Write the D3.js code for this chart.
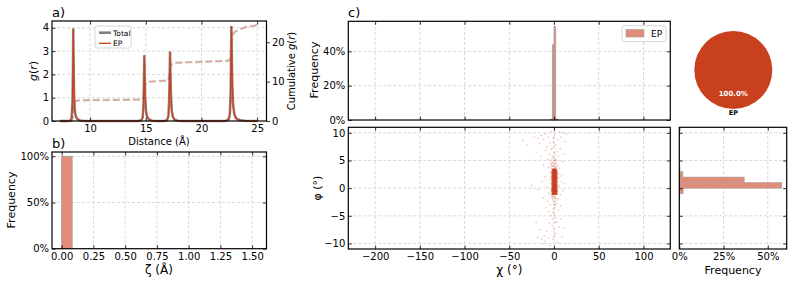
<!DOCTYPE html>
<html>
<head>
<meta charset="utf-8">
<script src="https://cdn.jsdelivr.net/npm/d3@7"></script>
<style>
  body { margin: 0; background: #fff; }
  text { font-family: "DejaVu Sans", sans-serif; }
</style>
</head>
<body>
<script>
// ---- data ----
var rValues = [7.3, 8.0, 8.25, 8.35, 8.42, 8.46, 8.49, 8.52, 8.56, 8.62, 8.7, 8.85, 9.1, 9.5,
  14.3, 14.6, 14.72, 14.8, 14.84, 14.87, 14.9, 14.95, 15.02, 15.12, 15.3, 15.6, 16.0,
  16.6, 16.9, 17.03, 17.1, 17.15, 17.18, 17.21, 17.26, 17.33, 17.43, 17.6, 17.9, 18.5,
  22.0, 22.2, 22.45, 22.55, 22.62, 22.66, 22.69, 22.72, 22.77, 22.84, 22.95, 23.1, 23.4, 23.9, 25.0];
var gValues = [0, 0, 0.02, 0.15, 0.8, 2.2, 3.97, 2.6, 1.2, 0.5, 0.22, 0.08, 0.02, 0,
  0, 0.03, 0.15, 0.7, 1.8, 2.82, 2.0, 1.0, 0.45, 0.18, 0.06, 0.01, 0,
  0, 0.03, 0.2, 0.9, 2.1, 2.98, 2.2, 1.1, 0.45, 0.18, 0.05, 0.01, 0,
  0, 0.01, 0.08, 0.3, 1.2, 2.8, 4.07, 3.0, 1.5, 0.7, 0.3, 0.12, 0.04, 0.01, 0];

var cumR = [7.3, 8.38, 8.45, 8.49, 8.55, 8.65, 8.9, 14.7, 14.82, 14.87, 14.93, 15.05, 15.4,
  17.0, 17.12, 17.18, 17.25, 17.4, 17.8, 22.5, 22.62, 22.69, 22.76, 22.9, 23.2, 24.0, 25.0];
var cumValues = [0, 0, 1.0, 2.8, 4.3, 5.0, 5.25, 5.45, 6.5, 7.8, 9.2, 9.8, 10.0,
  10.3, 11.6, 13.0, 14.2, 14.6, 14.8, 15.3, 16.5, 18.8, 21.2, 22.4, 23.0, 23.9, 24.3];

var zetaEdges = [0, 0.083];
var zetaFreq = [1.0];

var chiEdges = [-4, -2, 0, 2, 4];
var chiFreq = [0.005, 0.438, 0.545, 0.006];

var phiEdges = [-2, -1, 0, 1, 2, 3, 4];
var phiFreq = [0.003, 0.022, 0.579, 0.367, 0.02, 0.004];

var pieLabels = ['EP'];
var pieValues = [1];

var sparsePoints = [
  [-35, 8.6], [-30, 7.8], [-22, 9.2], [-18, 9.0], [-16, 8.1], [-14, 9.5], [-12, 8.8], [-10, 9.8],
  [-8, 7.5], [-6, 9.3], [-4, 8.2], [-3, 10.2], [-1, 9.0], [1, 9.6], [2, 7.9], [4, 8.7], [6, 10.1],
  [8, 9.2], [10, 10.0], [12, 8.4], [14, 9.8],
  [-20, 6.5], [-15, 5.8], [-12, 4.2], [-9, 6.8], [-7, 5.2], [-5, 6.1], [-3, 7.0], [-2, 5.5], [0, 6.4],
  [1, 5.0], [3, 6.6], [5, 5.7], [7, 7.1], [9, 4.8], [11, 6.2], [-6, 3.8], [-4, 4.5], [4, 4.1],
  [6, 3.6], [8, 2.2],
  [-25, 0.5], [-18, -0.3], [-14, 1.2], [-10, 2.0], [-8, 0.2], [-6, -0.8], [-5, 1.6], [-4, 2.8],
  [-3, -0.5], [-2, -1.5], [4, -0.6], [5, 1.9], [6, 0.4], [7, -1.2], [9, 1.1], [10, -0.4], [12, 0.8],
  [-12, -1.8], [-7, -2.4],
  [-9, -3.5], [-6, -4.2], [-4, -3.0], [-3, -5.0], [-1, -4.4], [1, -3.6], [2, -5.3], [3, -2.8],
  [5, -4.0], [7, -3.2], [8, -5.6], [-5, -6.3], [-2, -6.8], [0, -7.4], [3, -6.1], [6, -7.0],
  [-8, -7.8], [-11, -8.6], [-14, -9.2], [-16, -7.5], [-13, -10.1], [-10, -9.6], [-6, -9.0],
  [-4, -10.4], [-1, -9.3], [2, -8.2], [4, -9.8], [9, -8.8], [11, -7.2], [-18, -8.9], [-20, -6.2],
  [-3, 4.2], [-2, 3.9], [-1, 4.6], [0, 4.0], [1, 3.8], [2, 4.4], [3, 4.9], [-2.5, 5.1], [0.5, 5.4],
  [1.5, 6.0], [-1.5, -2.0], [0, -1.8], [1, -2.4], [2, -1.6], [-0.5, -2.9], [1.5, -3.1], [-3.5, 0.8],
  [-3.8, 2.1], [3.8, 0.3], [4.2, 2.6], [-4.5, -1.2], [4.6, -1.9], [-0.8, -3.8], [0.7, -4.9],
  [-1.2, 5.8], [2.4, -2.2], [-2.8, 3.6], [2.9, 3.7], [-2.6, -1.7], [3.1, -0.9], [0.2, 7.6],
  [-0.6, 8.3], [1.2, -6.2], [-1.7, -5.6], [0.4, -8.6], [-2.2, 7.2],
  [-1.4, 4.1], [0.6, 4.3], [2.2, 3.9], [-0.3, 5.0], [1.8, 5.2], [-1.9, -1.4], [0.4, -1.5],
  [1.7, -1.9], [-0.9, -2.3], [0.9, -3.0], [-2.4, 4.6], [2.6, 4.5]
];

var corePoints = [
  [-1.5, -1.0], [-0.5, -1.0], [0.5, -1.0], [1.5, -1.0], [2.5, -1.0],
  [-1.5, -0.6], [-0.5, -0.6], [0.5, -0.6], [1.5, -0.6], [2.5, -0.6],
  [-1.5, -0.2], [-0.5, -0.2], [0.5, -0.2], [1.5, -0.2], [2.5, -0.2],
  [-1.5, 0.2], [-0.5, 0.2], [0.5, 0.2], [1.5, 0.2], [2.5, 0.2],
  [-1.5, 0.6], [-0.5, 0.6], [0.5, 0.6], [1.5, 0.6], [2.5, 0.6],
  [-1.5, 1.0], [-0.5, 1.0], [0.5, 1.0], [1.5, 1.0], [2.5, 1.0],
  [-1.5, 1.4], [-0.5, 1.4], [0.5, 1.4], [1.5, 1.4], [2.5, 1.4],
  [-1.5, 1.8], [-0.5, 1.8], [0.5, 1.8], [1.5, 1.8], [2.5, 1.8],
  [-1.5, 2.2], [-0.5, 2.2], [0.5, 2.2], [1.5, 2.2], [2.5, 2.2],
  [-1.5, 2.6], [-0.5, 2.6], [0.5, 2.6], [1.5, 2.6], [2.5, 2.6],
  [-1.5, 3.0], [-0.5, 3.0], [0.5, 3.0], [1.5, 3.0], [2.5, 3.0],
  [-1.0, 3.3], [0.0, 3.3], [1.0, 3.3], [2.0, 3.3]
];

// ---- styles ----
var EP = '#c8401e';
var BAR = '#e08c78';
var EDGE = '#a0a0a0';
var GRID = '#cfcfcf';
var TICK = 3.5;

var svg = d3.select('body').append('svg')
    .attr('width', 793)
    .attr('height', 284);

function grid(x, y, xTicks, yTicks) {
  var g = svg.append('g').attr('class', 'grid');
  var xr = x.range(), yr = y.range();
  g.selectAll('line.gx').data(xTicks).enter().append('line')
      .attr('x1', function (d) { return x(d); })
      .attr('x2', function (d) { return x(d); })
      .attr('y1', yr[0]).attr('y2', yr[1]);
  g.selectAll('line.gy').data(yTicks).enter().append('line')
      .attr('y1', function (d) { return y(d); })
      .attr('y2', function (d) { return y(d); })
      .attr('x1', xr[0]).attr('x2', xr[1]);
  g.selectAll('line')
      .attr('stroke', GRID)
      .attr('stroke-width', 0.8)
      .attr('stroke-dasharray', '3,2');
}

function styleAxis(sel) {
  sel.attr('font-size', 10).attr('font-family', '"DejaVu Sans", sans-serif');
  sel.select('.domain').remove();
  sel.selectAll('.tick line').attr('stroke', '#000').attr('stroke-width', 0.8);
  sel.selectAll('.tick text').attr('fill', '#000');
}

function frame(x, y, o) {
  var xr = x.range(), yr = y.range();
  var g = svg.append('g');
  g.append('g')
      .attr('transform', 'translate(0,' + yr[0] + ')')
      .call(d3.axisBottom(x).tickValues(o.xTicks).tickSize(-TICK).tickPadding(4)
          .tickFormat(o.xFmt || ''))
      .call(styleAxis);
  g.append('g')
      .attr('transform', 'translate(0,' + yr[1] + ')')
      .call(d3.axisTop(x).tickValues(o.xTicks).tickSize(-TICK).tickFormat(''))
      .call(styleAxis);
  g.append('g')
      .attr('transform', 'translate(' + xr[0] + ',0)')
      .call(d3.axisLeft(y).tickValues(o.yTicks).tickSize(-TICK).tickPadding(3)
          .tickFormat(o.yFmt || ''))
      .call(styleAxis);
  if (!o.noRight) {
    g.append('g')
        .attr('transform', 'translate(' + xr[1] + ',0)')
        .call(d3.axisRight(y).tickValues(o.yTicks).tickSize(-TICK).tickFormat(''))
        .call(styleAxis);
  }
  g.append('rect')
      .attr('x', xr[0]).attr('y', yr[1])
      .attr('width', xr[1] - xr[0]).attr('height', yr[0] - yr[1])
      .attr('fill', 'none').attr('stroke', '#000').attr('stroke-width', 1.2);
  return g;
}

function label(txt, x, y, size, rotate, anchor) {
  var t = svg.append('text')
      .attr('x', x).attr('y', y)
      .attr('font-size', size)
      .attr('text-anchor', anchor || 'middle')
      .text(txt);
  if (rotate) t.attr('transform', 'rotate(-90,' + x + ',' + y + ')');
  return t;
}

// ---- panel a: g(r) ----
var xa = d3.scaleLinear().domain([6.58, 25.84]).range([52, 266.5]);
var ya = d3.scaleLinear().domain([0, 4.29]).range([121, 21]);
var yc = d3.scaleLinear().domain([0, 25.4]).range([121, 21]);

grid(xa, ya, [10, 15, 20, 25], [1, 2, 3, 4]);

var gLine = d3.line()
    .x(function (d, i) { return xa(rValues[i]); })
    .y(function (d) { return ya(d); });
var cLine = d3.line()
    .x(function (d, i) { return xa(cumR[i]); })
    .y(function (d) { return yc(d); });

svg.append('path').datum(cumValues)
    .attr('d', cLine).attr('fill', 'none')
    .attr('stroke', '#999').attr('stroke-opacity', 0.45).attr('stroke-width', 2.4)
    .attr('stroke-dasharray', '7,3');
svg.append('path').datum(cumValues)
    .attr('d', cLine).attr('fill', 'none')
    .attr('stroke', '#e08c78').attr('stroke-opacity', 0.7).attr('stroke-width', 1.2)
    .attr('stroke-dasharray', '7,3');

svg.append('path').datum(gValues)
    .attr('d', gLine).attr('fill', 'none')
    .attr('stroke', '#808080').attr('stroke-opacity', 0.85).attr('stroke-width', 2.6);
svg.append('path').datum(gValues)
    .attr('d', gLine).attr('fill', 'none')
    .attr('stroke', EP).attr('stroke-width', 1.3);

frame(xa, ya, {xTicks: [10, 15, 20, 25], yTicks: [0, 1, 2, 3, 4],
  xFmt: d3.format('d'), yFmt: d3.format('d'), noRight: true});

svg.append('g')
    .attr('transform', 'translate(266.5,0)')
    .call(d3.axisRight(yc).tickValues([0, 10, 20]).tickSize(TICK).tickPadding(2))
    .call(styleAxis);

// legend a
var lg = svg.append('g');
lg.append('rect').attr('x', 95).attr('y', 26).attr('width', 36).attr('height', 22)
    .attr('rx', 2).attr('fill', '#fff').attr('fill-opacity', 0.85)
    .attr('stroke', '#ccc').attr('stroke-width', 0.8);
lg.append('line').attr('x1', 99).attr('x2', 111).attr('y1', 32.7).attr('y2', 32.7)
    .attr('stroke', '#808080').attr('stroke-width', 2.6);
lg.append('line').attr('x1', 99).attr('x2', 111).attr('y1', 43.3).attr('y2', 43.3)
    .attr('stroke', EP).attr('stroke-width', 1.3);
lg.append('text').attr('x', 113).attr('y', 35.5).attr('font-size', 7.5).text('Total');
lg.append('text').attr('x', 113).attr('y', 46.1).attr('font-size', 7.5).text('EP');

label('a)', 52, 17, 13, false, 'start');
label('Distance (Å)', 159, 145, 10);
var gl = label('', 37, 71, 11, true);
gl.append('tspan').attr('font-style', 'italic').text('g');
gl.append('tspan').text('(');
gl.append('tspan').attr('font-style', 'italic').text('r');
gl.append('tspan').text(')');
var cl = label('Cumulative ', 295, 71, 10, true);
cl.append('tspan').attr('font-style', 'italic').text('g');
cl.append('tspan').text('(');
cl.append('tspan').attr('font-style', 'italic').text('r');
cl.append('tspan').text(')');

// ---- panel b: zeta histogram ----
var xb = d3.scaleLinear().domain([-0.076, 1.613]).range([52, 266.5]);
var yb = d3.scaleLinear().domain([0, 1.047]).range([248.7, 152]);
var zTicks = [0, 0.25, 0.5, 0.75, 1.0, 1.25, 1.5];

grid(xb, yb, zTicks, [0.5, 1.0]);

svg.append('g').selectAll('rect').data(zetaFreq).enter().append('rect')
    .attr('x', function (d, i) { return xb(zetaEdges[i]); })
    .attr('width', function (d, i) { return xb(zetaEdges[i + 1]) - xb(zetaEdges[i]); })
    .attr('y', function (d) { return yb(d); })
    .attr('height', function (d) { return yb(0) - yb(d); })
    .attr('fill', BAR).attr('stroke', EDGE).attr('stroke-width', 0.8);

frame(xb, yb, {xTicks: zTicks, yTicks: [0, 0.5, 1.0],
  xFmt: d3.format('.2f'), yFmt: d3.format('.0%')});

label('b)', 52, 148, 13, false, 'start');
label('ζ (Å)', 159, 274, 12);
label('Frequency', 15, 200, 11, true);

// ---- panel c: chi histogram (top) ----
var xc = d3.scaleLinear().domain([-230, 130]).range([348.3, 670.3]);
var yh = d3.scaleLinear().domain([0, 0.575]).range([120, 21.3]);
var chiTicks = [-200, -150, -100, -50, 0, 50, 100];

grid(xc, yh, chiTicks, [0.2, 0.4]);

svg.append('g').selectAll('rect').data(chiFreq).enter().append('rect')
    .attr('x', function (d, i) { return xc(chiEdges[i]); })
    .attr('width', function (d, i) { return xc(chiEdges[i + 1]) - xc(chiEdges[i]); })
    .attr('y', function (d) { return yh(d); })
    .attr('height', function (d) { return yh(0) - yh(d); })
    .attr('fill', BAR).attr('stroke', EDGE).attr('stroke-width', 0.6);

frame(xc, yh, {xTicks: chiTicks, yTicks: [0, 0.2, 0.4], yFmt: d3.format('.0%')});

var lc = svg.append('g');
lc.append('rect').attr('x', 622).attr('y', 25.7).attr('width', 44).attr('height', 16)
    .attr('rx', 2).attr('fill', '#fff').attr('stroke', '#ccc').attr('stroke-width', 0.8);
lc.append('rect').attr('x', 626).attr('y', 29.5).attr('width', 18).attr('height', 7.5)
    .attr('fill', BAR).attr('stroke', EDGE).attr('stroke-width', 0.6);
lc.append('text').attr('x', 651).attr('y', 37).attr('font-size', 9).text('EP');

label('c)', 348, 17, 13, false, 'start');
label('Frequency', 318, 70, 11, true);

// ---- pie ----
var pie = d3.pie().sort(null)(pieValues);
var arc = d3.arc().innerRadius(0).outerRadius(39);
var pg = svg.append('g').attr('transform', 'translate(733.3,70)');
pg.selectAll('path').data(pie).enter().append('path')
    .attr('d', arc).attr('fill', EP);
var pctArc = d3.arc().innerRadius(39 * 0.6).outerRadius(39 * 0.6);
var lblArc = d3.arc().innerRadius(39 * 1.1).outerRadius(39 * 1.1);
pg.selectAll('text.pct').data(pie).enter().append('text')
    .attr('transform', function (d) { return 'translate(' + pctArc.centroid(d) + ')'; })
    .attr('dy', '0.35em').attr('text-anchor', 'middle')
    .attr('font-size', 7).attr('font-weight', 'bold').attr('fill', '#fff')
    .text(function (d) { return d3.format('.1%')(d.value / d3.sum(pieValues)); });
pg.selectAll('text.lbl').data(pie).enter().append('text')
    .attr('transform', function (d) { return 'translate(' + lblArc.centroid(d) + ')'; })
    .attr('dy', '0.35em').attr('text-anchor', 'middle')
    .attr('font-size', 6.5).attr('font-weight', 'bold').attr('fill', '#000')
    .text(function (d, i) { return pieLabels[i]; });

// ---- scatter chi/phi ----
var ys = d3.scaleLinear().domain([-11, 11]).range([249, 127.3]);
var phiTicks = [-10, -5, 0, 5, 10];

grid(xc, ys, chiTicks, phiTicks);

svg.append('g').selectAll('circle').data(sparsePoints).enter().append('circle')
    .attr('cx', function (d) { return xc(d[0]); })
    .attr('cy', function (d) { return ys(d[1]); })
    .attr('r', 0.8).attr('fill', EP).attr('fill-opacity', 0.35);
svg.append('g').selectAll('circle').data(corePoints).enter().append('circle')
    .attr('cx', function (d) { return xc(d[0]); })
    .attr('cy', function (d) { return ys(d[1]); })
    .attr('r', 1.4).attr('fill', EP).attr('fill-opacity', 0.85);

frame(xc, ys, {xTicks: chiTicks, yTicks: phiTicks, xFmt: d3.format('d'), yFmt: d3.format('d')});

label('χ (°)', 509.3, 274, 12);
label('φ (°)', 321, 188, 11, true);

// ---- phi histogram (right) ----
var xr = d3.scaleLinear().domain([0, 0.607]).range([679.3, 786.7]);

grid(xr, ys, [0, 0.25, 0.5], phiTicks);

svg.append('g').selectAll('rect').data(phiFreq).enter().append('rect')
    .attr('y', function (d, i) { return ys(phiEdges[i + 1]); })
    .attr('height', function (d, i) { return ys(phiEdges[i]) - ys(phiEdges[i + 1]); })
    .attr('x', xr(0))
    .attr('width', function (d) { return xr(d) - xr(0); })
    .attr('fill', BAR).attr('stroke', EDGE).attr('stroke-width', 0.6);

frame(xr, ys, {xTicks: [0, 0.25, 0.5], yTicks: phiTicks, xFmt: d3.format('.0%')});

label('Frequency', 733, 274, 11);
</script>
</body>
</html>
